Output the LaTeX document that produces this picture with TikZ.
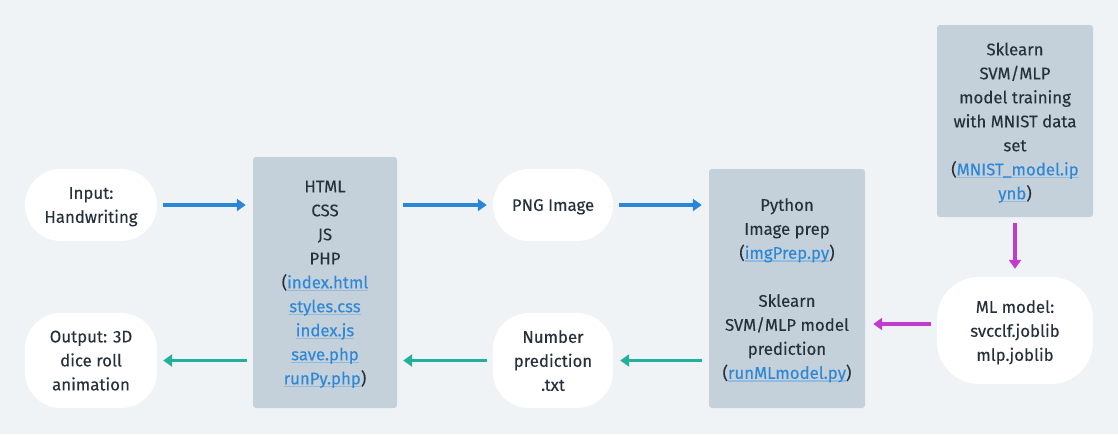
\documentclass[tikz,border=0pt]{standalone}
\usepackage{fontspec}
\setmainfont{Fira Sans}[FakeBold=0.2]
\usetikzlibrary{arrows.meta}
\definecolor{bgc}{HTML}{EFF3F6}
\definecolor{boxc}{HTML}{C4D0DA}
\definecolor{txtc}{HTML}{27313B}
\definecolor{linkc}{HTML}{2F88D6}
\definecolor{ulc}{HTML}{92BBE0}
\definecolor{bluec}{HTML}{2A87D8}
\definecolor{tealc}{HTML}{20B09C}
\definecolor{purpc}{HTML}{C13BCF}
\newsavebox\lnkbox
\newcommand\lnk[1]{\sbox\lnkbox{\color{linkc}#1}\leavevmode\rlap{\color{ulc}\rule[-3pt]{\wd\lnkbox}{1.4pt}}\usebox\lnkbox}
\tikzset{
  base/.style={inner sep=0pt, align=center, text=txtc, text depth=0pt, font=\fontsize{16.8}{24}\selectfont},
  pill/.style={base, fill=white, rounded corners=36pt},
  gbox/.style={base, fill=boxc, rounded corners=3pt},
  arr/.style={line width=3.2pt, -{Triangle[length=9pt,width=12pt]}},
}
\begin{document}
\begin{tikzpicture}[x=1pt,y=1pt]
\fill[bgc] (0,0) rectangle (1118,-434);
\useasboundingbox (0,0) rectangle (1118,-434);
\node[pill, minimum width=132pt, minimum height=72pt] (inp) at (91,-205) {Input:\\Handwriting};
\node[pill, minimum width=132pt, minimum height=95pt] (out) at (91,-360.5) {Output: 3D\\dice roll\\animation};
\node[gbox, minimum width=144pt, minimum height=251pt] (html) at (325,-282.5) {HTML\\CSS\\JS\\PHP\\(\lnk{index.html}\\\lnk{styles.css}\\\lnk{index.js}\\\lnk{save.php}\\\lnk{runPy.php})};
\node[pill, minimum width=120pt, minimum height=72pt] (png) at (553,-205) {PNG Image};
\node[pill, minimum width=120pt, minimum height=95pt] (num) at (553,-360.5) {Number\\prediction\\.txt};
\node[gbox, minimum width=156pt, minimum height=239pt] (py) at (787,-288.5) {Python\\Image prep\\(\lnk{imgPrep.py})\\[24pt]Sklearn\\SVM/MLP model\\prediction\\(\lnk{runMLmodel.py})};
\node[gbox, minimum width=156pt, minimum height=192pt] (train) at (1015,-121) {Sklearn\\SVM/MLP\\model training\\with MNIST data\\set\\(\lnk{MNIST\_model.ip}\\\lnk{ynb})};
\node[pill, rounded corners=42pt, minimum width=156pt, minimum height=107pt] (ml) at (1015,-330.5) {ML model:\\svcclf.joblib\\mlp.joblib};
\draw[arr, bluec, shorten <=6pt, shorten >=7pt] (inp.east) -- (inp.east -| html.west);
\draw[arr, bluec, shorten <=6pt, shorten >=6pt] (html.east |- png.west) -- (png.west);
\draw[arr, bluec, shorten <=6pt, shorten >=7pt] (png.east) -- (png.east -| py.west);
\draw[arr, purpc, shorten <=6pt, shorten >=8pt] (train.south) -- (ml.north);
\draw[arr, purpc, shorten <=6pt, shorten >=8pt] ([yshift=6.5pt]ml.west) -- ([yshift=6.5pt]ml.west -| py.east);
\draw[arr, tealc, shorten <=7pt, shorten >=7pt] (py.west |- num.east) -- (num.east);
\draw[arr, tealc, shorten <=6pt, shorten >=6pt] (num.west) -- (num.west -| html.east);
\draw[arr, tealc, shorten <=6pt, shorten >=6pt] (html.west |- out.east) -- (out.east);
\end{tikzpicture}
\end{document}
